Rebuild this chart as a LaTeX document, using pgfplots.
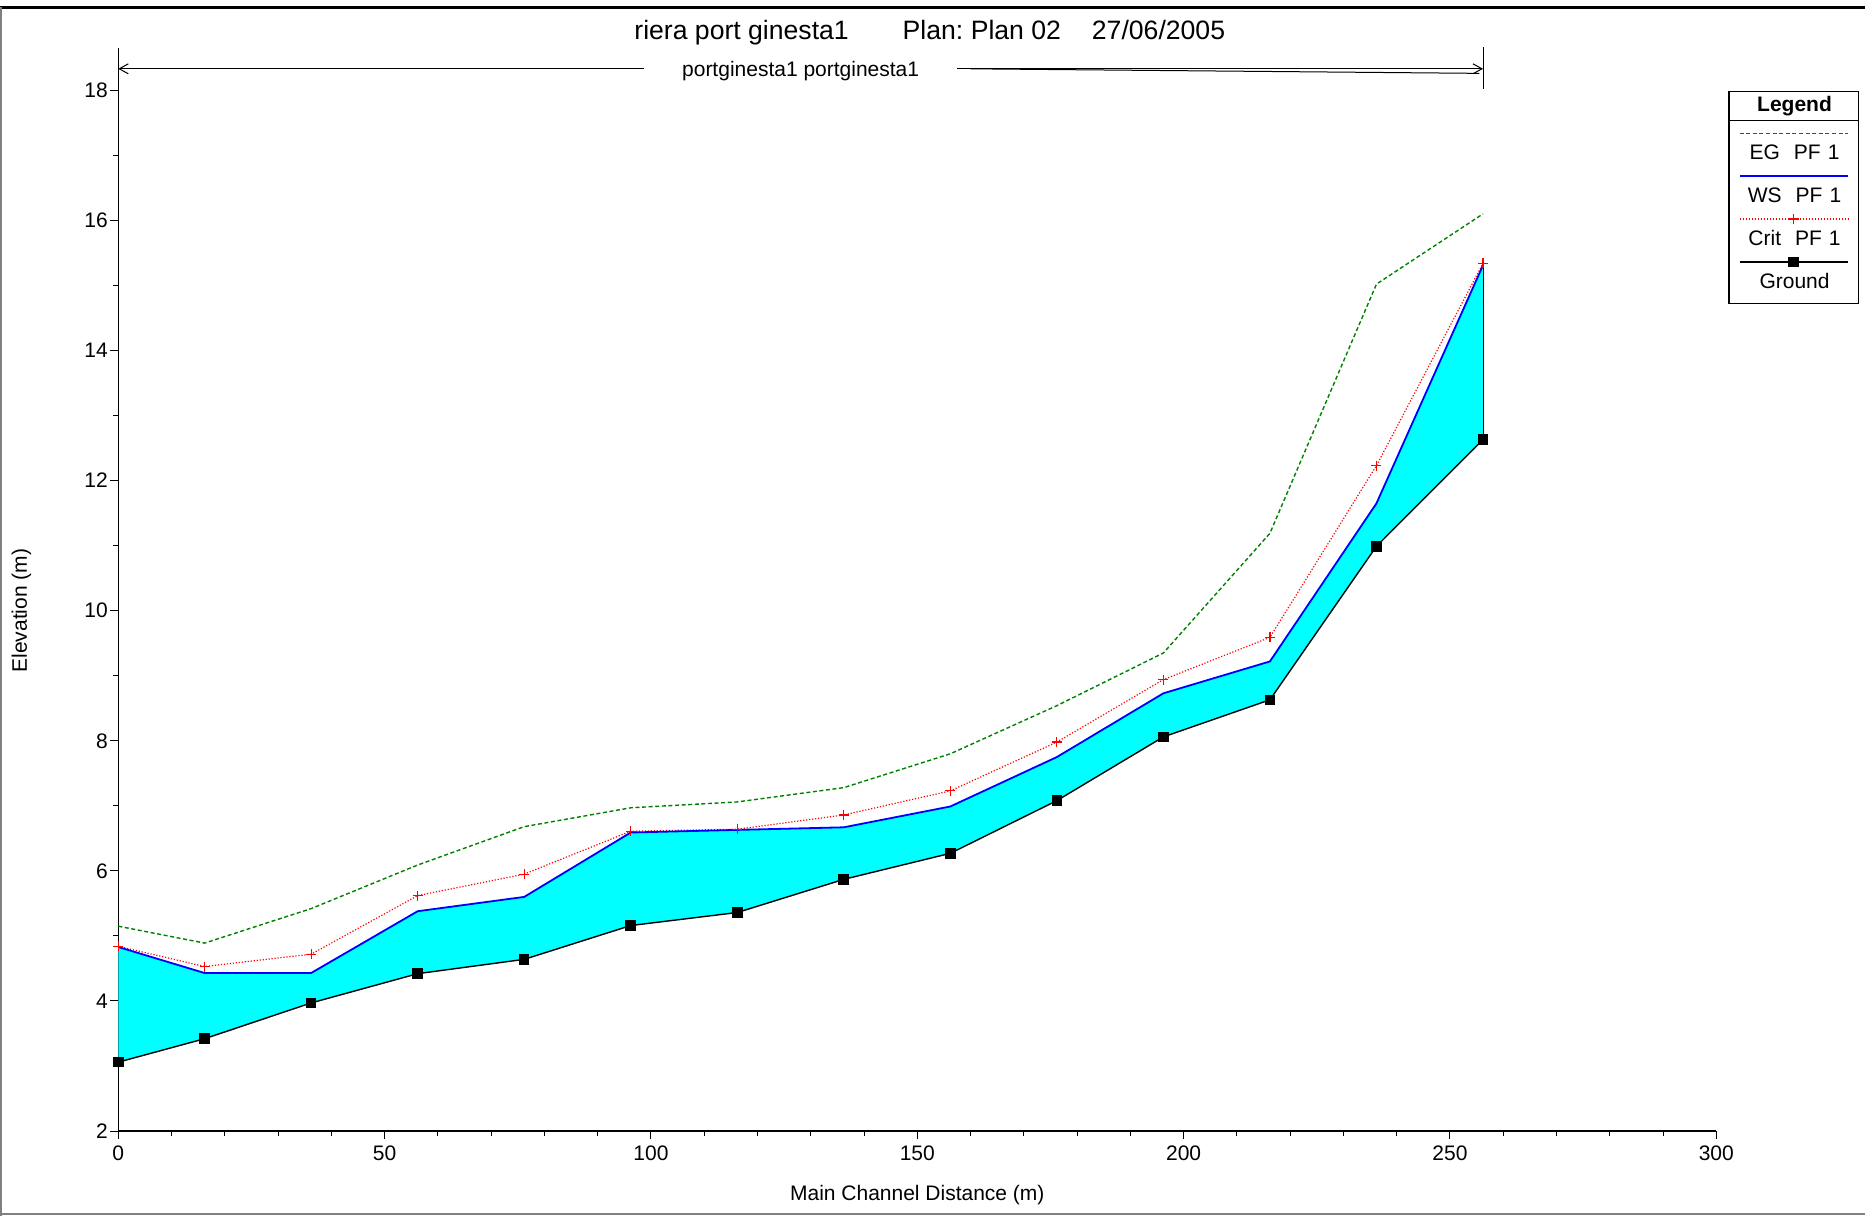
\documentclass[border=0pt]{standalone}
\usepackage{fontspec}
\setmainfont{Liberation Sans}
\usepackage{pgfplots}
\usepackage{pgfplotstable}
\pgfplotsset{compat=1.18}
\usepgfplotslibrary{fillbetween}
\usetikzlibrary{arrows.meta}
\frenchspacing

\definecolor{egreen}{RGB}{0,128,0}
\definecolor{aqua}{RGB}{0,255,255}
\newcommand{\lsize}{\fontsize{10.5}{12.6}\selectfont}

% station, elevation
\pgfplotstableread{
x eg ws crit ground
0     5.15  4.83  4.84  3.06
16.2  4.89  4.43  4.53  3.42
36.2  5.42  4.43  4.72  3.97
56.2  6.09  5.38  5.62  4.42
76.2  6.68  5.60  5.95  4.64
96.2  6.97  6.59  6.61  5.16
116.2 7.06  6.63  6.64  5.36
136.2 7.28  6.67  6.86  5.87
156.2 7.80  6.99  7.23  6.27
176.2 8.54  7.75  7.98  7.08
196.2 9.35  8.73  8.94  8.06
216.2 11.19 9.22  9.59  8.63
236.2 15.02 11.65 12.23 10.99
256.2 16.10 15.31 15.34 12.63
}\profile

\begin{document}
\begin{tikzpicture}
\begin{axis}[
  at={(0,0)}, anchor=south west,
  scale only axis,
  width=799pt, height=541.55pt,
  xmin=0, xmax=300, ymin=2, ymax=18.65,
  axis x line*=bottom, axis y line*=left,
  xtick={0,50,...,300}, minor x tick num=4,
  ytick={2,4,...,18}, minor y tick num=1,
  tick align=outside,
  major tick length=4pt, minor tick length=2.5pt,
  tick style={black, line width=0.5pt},
  axis line style={line width=0.6pt},
  tick label style={font=\lsize},
  yticklabel style={xshift=2.3pt},
  /pgf/number format/assume math mode=true,
  xlabel={Main Channel Distance (m)},
  ylabel={Elevation (m)},
  label style={font=\lsize},
  xlabel style={at={(axis description cs:0.5,-0.059)}, anchor=center},
  ylabel style={at={(axis description cs:-0.06064,0.4805)}, anchor=center},
  clip=false,
  legend style={
    at={(axis description cs:1.00751,0.96029)}, anchor=north west,
    draw=black, line width=0.6pt, fill=white,
    inner xsep=0pt, inner ysep=0pt,
    column sep=0pt, row sep=0pt,
    font=\lsize,
    nodes={inner sep=0pt, text width=63.85pt, align=center,
           text height=19.6pt, text depth=1.85pt},
    cells={anchor=base},
  },
  legend image code/.code={
    \path (0pt,0pt);
    \draw[overlay, mark repeat=2, mark phase=2, #1]
      plot coordinates {(4.85pt,13.25pt) (31.925pt,13.25pt) (59pt,13.25pt)};
  },
]

\addplot[draw=none, name path=ws, forget plot] table[x=x, y=ws] {\profile};
\addplot[draw=none, name path=ground, forget plot] table[x=x, y=ground] {\profile};
\addplot[fill=aqua, draw=none, forget plot] fill between[of=ws and ground];
\addplot[black, line width=0.5pt, forget plot] coordinates {(256.2,12.63) (256.2,15.31)};

\addplot[egreen, line width=0.7pt, dash pattern=on 2pt off 1.3pt, forget plot]
  table[x=x, y=eg] {\profile};
\addplot[red, line width=0.6pt, dash pattern=on 0.6pt off 0.9pt, mark=+, mark size=2.5pt,
  mark options={solid, line width=0.6pt}, forget plot]
  table[x=x, y=crit] {\profile};
\addplot[blue, line width=0.9pt, forget plot] table[x=x, y=ws] {\profile};
\addplot[black, line width=0.7pt, mark=square*, mark size=2.3pt, mark options={solid}, forget plot]
  table[x=x, y=ground] {\profile};

\addlegendimage{legend image code/.code={
  \path (0pt,0pt);
  \draw[overlay, black, line width=0.6pt] (0pt,-4.6pt) -- (63.85pt,-4.6pt);}}
\addlegendentry[text height=9.9pt, text depth=4.6pt, font=\lsize\bfseries]{Legend}
\addlegendimage{egreen, line width=0.7pt, dash pattern=on 2pt off 1.3pt}
\addlegendentry{EG\ \ PF 1}
\addlegendimage{blue, line width=0.9pt}
\addlegendentry{WS\ \ PF 1}
\addlegendimage{red, line width=0.6pt, dash pattern=on 0.6pt off 0.9pt, mark=+, mark size=2.5pt,
  mark options={solid, line width=0.6pt}}
\addlegendentry{Crit\ \ PF 1}
\addlegendimage{black, line width=0.7pt, mark=square*, mark size=2.3pt, mark options={solid}}
\addlegendentry[text depth=7.6pt]{Ground}

% reach annotation
\draw[line width=0.5pt, {Straight Barb[length=4.5pt,width=5pt]}-{Straight Barb[length=4.5pt,width=5pt]}]
  (axis cs:0,18.33) -- (axis cs:256.2,18.33);
\draw[line width=0.5pt] (axis cs:160,18.33) -- (axis cs:255.5,18.26);
\draw[line width=0.5pt] (axis cs:256.2,18.02) -- (axis cs:256.2,18.66);
\node[fill=white, inner xsep=19pt, inner ysep=1pt, font=\lsize, yshift=-1.2pt]
  at (axis cs:128.1,18.33) {portginesta1 portginesta1};
\end{axis}

\node[anchor=base west, inner sep=0pt, font=\fontsize{13.3}{16}\selectfont]
  at (257.85pt,545.95pt) {riera port ginesta1\hspace{27pt}Plan: Plan 02\hspace{15.5pt}27/06/2005};

\draw[black, line width=1.5pt] (-59.15pt,561.8pt) -- (873.35pt,561.8pt);
\draw[gray, line width=1pt] (-58.65pt,-42.45pt) -- (-58.65pt,561.8pt);
\draw[gray, line width=1pt] (-59.15pt,-41.45pt) -- (873.35pt,-41.45pt);
\pgfresetboundingbox
\path (-59.15pt,-42.45pt) rectangle (873.35pt,565.55pt);
\end{tikzpicture}
\end{document}
